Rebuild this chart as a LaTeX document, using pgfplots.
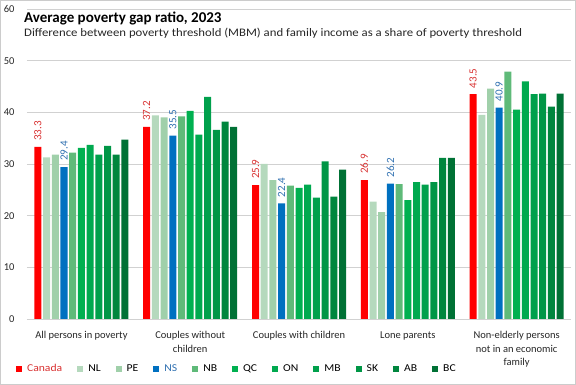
\documentclass[border=0pt]{standalone}
\usepackage{pgfplots}
\pgfplotsset{compat=1.18}
\usepackage{fontspec}
\setmainfont{Carlito}
\newfontfamily\subfont[FakeStretch=1.11]{Carlito}
\definecolor{cCA}{HTML}{FF0000}
\definecolor{cNL}{HTML}{B5D9BD}
\definecolor{cPE}{HTML}{A0D0AA}
\definecolor{cNS}{HTML}{0070C0}
\definecolor{cNB}{HTML}{5FBA79}
\definecolor{cQC}{HTML}{00B050}
\definecolor{cON}{HTML}{00A94F}
\definecolor{cMB}{HTML}{00A04C}
\definecolor{cSK}{HTML}{009646}
\definecolor{cAB}{HTML}{00863E}
\definecolor{cBC}{HTML}{007135}
\definecolor{tCA}{HTML}{D83030}
\definecolor{tNS}{HTML}{2E6FB0}
\begin{document}
\begin{tikzpicture}[x=1pt,y=1pt]
\path[use as bounding box] (0,0) rectangle (576,385);
\draw[black!20] (0.5,0.5) rectangle (575.5,384.5);
\begin{axis}[at={(27pt,66pt)}, anchor=south west, scale only axis,
  width=544pt, height=310pt,
  ymin=0, ymax=60, ytick={0,10,...,60},
  xmin=-0.5, xmax=4.5, xtick={0,1,2,3,4},
  xticklabels={All persons in poverty, Couples without\\children, Couples with children, Lone parents, Non-elderly persons\\not in an economic\\family},
  ybar=1.7pt, bar width=7pt,
  axis line style={draw=none}, ymajorgrids, grid style={black!18},
  major tick length=0pt,
  tick label style={font=\fontsize{10.5}{13.5}\selectfont, text=black!85},
  /pgf/number format/assume math mode=true,
  xticklabel style={align=center, yshift=-9pt},
  yticklabel style={xshift=-9pt},
  legend columns=11,
  legend style={at={(-0.0205,-0.16)}, anchor=west, draw=none, fill=none,
    font=\subfont\fontsize{10.5}{12}\selectfont, inner sep=0pt,
    nodes={inner sep=0pt},
    /tikz/every even column/.style={column sep=15pt},
    /tikz/every odd column/.style={column sep=5pt}},
  legend image code/.code={\fill[#1] (0pt,-3pt) rectangle (6pt,3pt);},
  every node near coord/.append style={rotate=90, anchor=west, font=\fontsize{11}{12}\selectfont, inner sep=0pt, xshift=6pt},
]
\addplot[fill=cCA, draw=none, nodes near coords, every node near coord/.append style={text=tCA}] coordinates {(0,33.3) (1,37.2) (2,25.9) (3,26.9) (4,43.5)};
\addlegendentry{\textcolor{tCA}{Canada}}
\addplot[fill=cNL, draw=none] coordinates {(0,31.3) (1,39.4) (2,30.0) (3,22.7) (4,39.5)};
\addlegendentry{NL}
\addplot[fill=cPE, draw=none] coordinates {(0,31.8) (1,39.0) (2,26.9) (3,20.7) (4,44.6)};
\addlegendentry{PE}
\addplot[fill=cNS, draw=none, nodes near coords, every node near coord/.append style={text=tNS}] coordinates {(0,29.4) (1,35.5) (2,22.4) (3,26.2) (4,40.9)};
\addlegendentry{\textcolor{tNS}{NS}}
\addplot[fill=cNB, draw=none] coordinates {(0,32.2) (1,39.2) (2,25.8) (3,26.1) (4,47.9)};
\addlegendentry{NB}
\addplot[fill=cQC, draw=none] coordinates {(0,33.1) (1,40.3) (2,25.4) (3,23.0) (4,40.5)};
\addlegendentry{QC}
\addplot[fill=cON, draw=none] coordinates {(0,33.7) (1,35.7) (2,26.0) (3,26.5) (4,46.0)};
\addlegendentry{ON}
\addplot[fill=cMB, draw=none] coordinates {(0,31.8) (1,43.0) (2,23.5) (3,26.0) (4,43.5)};
\addlegendentry{MB}
\addplot[fill=cSK, draw=none] coordinates {(0,33.5) (1,36.6) (2,30.5) (3,26.5) (4,43.6)};
\addlegendentry{SK}
\addplot[fill=cAB, draw=none] coordinates {(0,31.8) (1,38.2) (2,23.7) (3,31.2) (4,41.1)};
\addlegendentry{AB}
\addplot[fill=cBC, draw=none] coordinates {(0,34.7) (1,37.2) (2,28.9) (3,31.2) (4,43.6)};
\addlegendentry{BC}
\end{axis}
\node[anchor=base west, inner sep=0pt, font=\fontsize{15}{18}\bfseries\selectfont] at (24,362) {Average poverty gap ratio, 2023};
\node[anchor=base west, inner sep=0pt, font=\subfont\fontsize{11.5}{14}\selectfont, text=black!85] at (24,348.5) {Difference between poverty threshold (MBM) and family income as a share of poverty threshold};
\end{tikzpicture}
\end{document}
